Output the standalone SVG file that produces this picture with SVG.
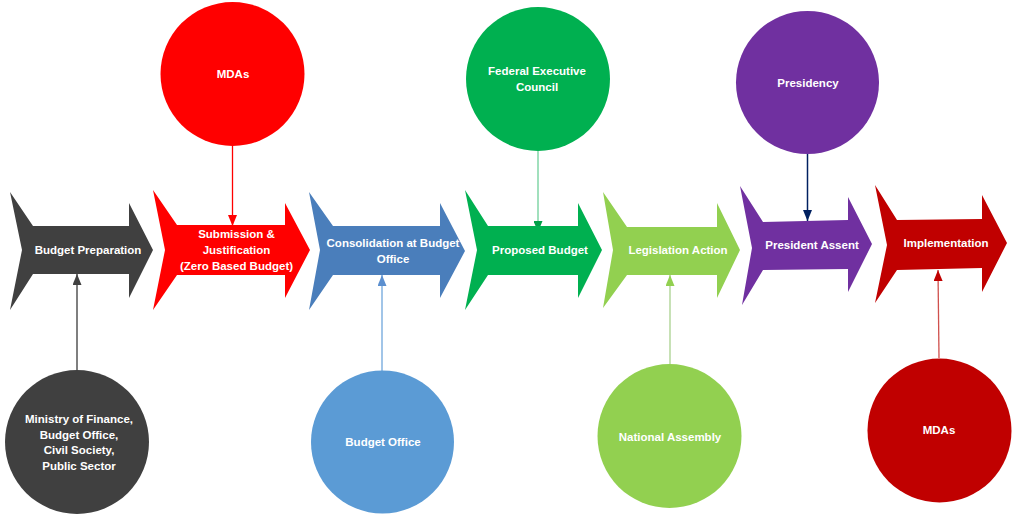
<svg xmlns="http://www.w3.org/2000/svg" width="1017" height="522" viewBox="0 0 1017 522">
<style>
  text { font-family: "Liberation Sans", Arial, sans-serif; font-weight: bold; font-size: 11.5px; fill: #ffffff; text-anchor: middle; }
  .conn { fill: none; }
</style>
<defs>
  <marker id="mk-dark" viewBox="0 0 11 9" refX="11" refY="4.5" markerWidth="11" markerHeight="9" markerUnits="userSpaceOnUse" orient="auto"><path d="M0,0 L11,4.5 L0,9 Z" fill="#404040"/></marker>
  <marker id="mk-red" viewBox="0 0 11 9" refX="11" refY="4.5" markerWidth="11" markerHeight="9" markerUnits="userSpaceOnUse" orient="auto"><path d="M0,0 L11,4.5 L0,9 Z" fill="#ff0000"/></marker>
  <marker id="mk-blue" viewBox="0 0 11 9" refX="11" refY="4.5" markerWidth="11" markerHeight="9" markerUnits="userSpaceOnUse" orient="auto"><path d="M0,0 L11,4.5 L0,9 Z" fill="#5b8fcf"/></marker>
  <marker id="mk-green" viewBox="0 0 11 9" refX="11" refY="4.5" markerWidth="11" markerHeight="9" markerUnits="userSpaceOnUse" orient="auto"><path d="M0,0 L11,4.5 L0,9 Z" fill="#00a048"/></marker>
  <marker id="mk-lgreen" viewBox="0 0 11 9" refX="11" refY="4.5" markerWidth="11" markerHeight="9" markerUnits="userSpaceOnUse" orient="auto"><path d="M0,0 L11,4.5 L0,9 Z" fill="#92d050"/></marker>
  <marker id="mk-navy" viewBox="0 0 11 9" refX="11" refY="4.5" markerWidth="11" markerHeight="9" markerUnits="userSpaceOnUse" orient="auto"><path d="M0,0 L11,4.5 L0,9 Z" fill="#002060"/></marker>
  <marker id="mk-dred" viewBox="0 0 11 9" refX="11" refY="4.5" markerWidth="11" markerHeight="9" markerUnits="userSpaceOnUse" orient="auto"><path d="M0,0 L11,4.5 L0,9 Z" fill="#c00000"/></marker>
</defs>
<rect width="1017" height="522" fill="#ffffff"/>

<g id="connectors">
  <line class="conn" x1="77" y1="370" x2="77" y2="274" stroke="#7f7f7f" stroke-width="2" marker-end="url(#mk-dark)"/>
  <line class="conn" x1="232.5" y1="146" x2="232.5" y2="226" stroke="#ff0000" stroke-width="1.3" marker-end="url(#mk-red)"/>
  <line class="conn" x1="382" y1="371" x2="382" y2="275" stroke="#6fa6dc" stroke-width="1.3" marker-end="url(#mk-blue)"/>
  <line class="conn" x1="538" y1="151" x2="538" y2="232" stroke="#6fcf9a" stroke-width="1.3" marker-end="url(#mk-green)"/>
  <line class="conn" x1="670" y1="364" x2="670" y2="275" stroke="#a9d18e" stroke-width="1.3" marker-end="url(#mk-lgreen)"/>
  <line class="conn" x1="807.5" y1="154" x2="807.5" y2="221" stroke="#002060" stroke-width="1.5" marker-end="url(#mk-navy)"/>
  <line class="conn" x1="939" y1="358" x2="938" y2="270" stroke="#d0504d" stroke-width="1.3" marker-end="url(#mk-dred)"/>
</g>

<g id="arrow-budget-preparation">
  <polygon points="10,192 33,226 129,226 129,203 153,250 129,298 129,274 33,274 10,310 22,250" fill="#404040"/>
  <text x="88" y="254">Budget Preparation</text>
</g>
<g id="arrow-submission">
  <polygon points="153,190 177,225 285,225 285,203 310,250 285,298 285,275 177,275 153,310 165,250" fill="#ff0000"/>
  <text x="236.5" y="238">Submission &amp;</text>
  <text x="236.5" y="254">Justification</text>
  <text x="236.5" y="270">(Zero Based Budget)</text>
</g>
<g id="arrow-consolidation">
  <polygon points="309,192 333,226 440,226 440,203 465,251 440,298 440,275 333,275 309,310 320,250" fill="#4a7ebb"/>
  <text x="393" y="247">Consolidation at Budget</text>
  <text x="393" y="263">Office</text>
</g>
<g id="arrow-proposed">
  <polygon points="465,190 488,226 578,226 578,203 602,250 578,298 578,275 488,275 465,310 477,250" fill="#00b050"/>
  <text x="540" y="254">Proposed Budget</text>
</g>
<g id="arrow-legislation">
  <polygon points="603,192 627,227 717,227 717,203 740,250 717,298 717,275 627,275 603,308 613,250" fill="#92d050"/>
  <text x="678" y="254">Legislation Action</text>
</g>
<g id="arrow-assent">
  <polygon points="740,186 763,222 848,220 848,197 872,244 848,292 848,269 763,270 742,305 752,248" fill="#7030a0"/>
  <text x="812" y="249">President Assent</text>
</g>
<g id="arrow-implementation">
  <polygon points="875,185 897,220 982,219 982,195 1007,243 982,292 982,268 897,270 875,303 887,245" fill="#c00000"/>
  <text x="946" y="247">Implementation</text>
</g>

<g id="circle-ministry">
  <circle cx="77" cy="442" r="72" fill="#404040"/>
  <text x="79" y="423">Ministry of Finance,</text>
  <text x="79" y="438.5">Budget Office,</text>
  <text x="79" y="454">Civil Society,</text>
  <text x="79" y="470">Public Sector</text>
</g>
<g id="circle-mdas-top">
  <circle cx="232.5" cy="74" r="72" fill="#ff0000"/>
  <text x="233" y="78">MDAs</text>
</g>
<g id="circle-budget-office">
  <circle cx="382.5" cy="442" r="71.5" fill="#5b9bd5"/>
  <text x="383" y="446">Budget Office</text>
</g>
<g id="circle-fec">
  <circle cx="538" cy="79" r="72" fill="#00b050"/>
  <text x="537" y="75">Federal Executive</text>
  <text x="537" y="91">Council</text>
</g>
<g id="circle-national-assembly">
  <circle cx="669.5" cy="436" r="72" fill="#92d050"/>
  <text x="670" y="441">National Assembly</text>
</g>
<g id="circle-presidency">
  <circle cx="807.5" cy="82.5" r="71.5" fill="#7030a0"/>
  <text x="808" y="87">Presidency</text>
</g>
<g id="circle-mdas-bottom">
  <circle cx="939.5" cy="430.5" r="72" fill="#c00000"/>
  <text x="939" y="434">MDAs</text>
</g>
</svg>
